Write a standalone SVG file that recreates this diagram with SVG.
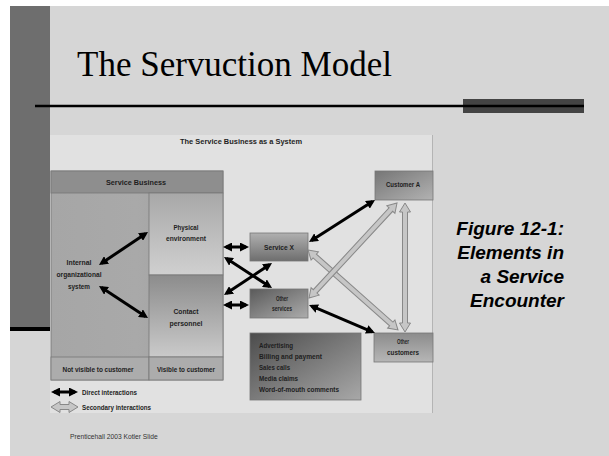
<svg xmlns="http://www.w3.org/2000/svg" width="609" height="456" viewBox="0 0 609 456">
<style>
.lbl{font-family:"Liberation Sans",Arial,sans-serif;font-size:6.5px;font-weight:bold;fill:#1e1e1e;text-anchor:middle}
.lft{text-anchor:start}
.box{stroke:#777;stroke-width:0.8}
.dir{stroke:#000;stroke-width:3;fill:none;marker-start:url(#ah);marker-end:url(#ah)}
.sec{fill:#c6c6c6;stroke:#888;stroke-width:1}
.cap{font-family:"Liberation Sans",Arial,sans-serif;font-size:19px;font-weight:bold;font-style:italic;fill:#000;text-anchor:end}
</style>
<defs>
<marker id="ah" viewBox="0 0 9 9" refX="6" refY="4.5" markerWidth="9" markerHeight="9" markerUnits="userSpaceOnUse" orient="auto-start-reverse">
<path d="M0,0 L9,4.5 L0,9 Z" fill="#000"/>
</marker>
<linearGradient id="gPhys" x1="0" y1="0" x2="0" y2="1"><stop offset="0" stop-color="#a8a8a8"/><stop offset="1" stop-color="#d0d0d0"/></linearGradient>
<linearGradient id="gCont" x1="0" y1="0" x2="0" y2="1"><stop offset="0" stop-color="#8c8c8c"/><stop offset="1" stop-color="#cacaca"/></linearGradient>
<linearGradient id="gInt" x1="0" y1="0" x2="1" y2="0"><stop offset="0" stop-color="#a6a6a6"/><stop offset="0.5" stop-color="#a9a9a9"/><stop offset="1" stop-color="#9c9c9c"/></linearGradient>
<linearGradient id="gSX" x1="0" y1="0" x2="0" y2="1"><stop offset="0" stop-color="#b0b0b0"/><stop offset="1" stop-color="#6e6e6e"/></linearGradient>
<linearGradient id="gOS" x1="0" y1="0" x2="1" y2="1"><stop offset="0" stop-color="#5a5a5a"/><stop offset="1" stop-color="#acacac"/></linearGradient>
<linearGradient id="gCA" x1="0" y1="0" x2="1" y2="1"><stop offset="0" stop-color="#767676"/><stop offset="1" stop-color="#b2b2b2"/></linearGradient>
<linearGradient id="gOC" x1="0" y1="0" x2="0" y2="1"><stop offset="0" stop-color="#8c8c8c"/><stop offset="1" stop-color="#b6b6b6"/></linearGradient>
<linearGradient id="gList" x1="0" y1="0" x2="1" y2="1"><stop offset="0" stop-color="#4c4c4c"/><stop offset="1" stop-color="#a8a8a8"/></linearGradient>
</defs>

<!-- slide background -->
<rect x="0" y="0" width="609" height="456" fill="#ffffff"/>
<rect x="10" y="6" width="599" height="450" fill="#d6d6d6"/>
<rect x="10" y="6" width="40" height="321" fill="#6e6e6e"/>
<rect x="10" y="327" width="40" height="4" fill="#000"/>
<rect x="463" y="99" width="121" height="14" fill="#444"/>
<line x1="35" y1="106" x2="584" y2="106" stroke="#000" stroke-width="2.5"/>
<text x="77" y="76" font-family="Liberation Serif,'Times New Roman',serif" font-size="35" fill="#000">The Servuction Model</text>

<!-- figure panel -->
<rect x="50" y="135" width="383" height="278" fill="#e1e1e1"/>
<line x1="432.5" y1="135" x2="432.5" y2="413" stroke="#b4b4b4" stroke-width="1"/>
<text class="lbl" x="241" y="144" font-size="7" textLength="122" lengthAdjust="spacingAndGlyphs">The Service Business as a System</text>

<g id="service-business">
<rect class="box" x="51" y="171" width="172" height="209" fill="url(#gInt)"/>
<rect class="box" x="51" y="171" width="172" height="22" fill="#8e8e8e"/>
<text class="lbl" x="136" y="185" font-size="7" textLength="60" lengthAdjust="spacingAndGlyphs">Service Business</text>
</g>
<g id="internal-system">
<text class="lbl" x="79" y="265" textLength="25" lengthAdjust="spacingAndGlyphs">Internal</text>
<text class="lbl" x="79" y="277" textLength="45" lengthAdjust="spacingAndGlyphs">organizational</text>
<text class="lbl" x="79" y="289" textLength="22" lengthAdjust="spacingAndGlyphs">system</text>
</g>
<g id="physical-environment">
<rect class="box" x="149" y="193" width="74" height="82" fill="url(#gPhys)"/>
<text class="lbl" x="186" y="230" textLength="25" lengthAdjust="spacingAndGlyphs">Physical</text>
<text class="lbl" x="186" y="241" textLength="40" lengthAdjust="spacingAndGlyphs">environment</text>
</g>
<g id="contact-personnel">
<rect class="box" x="149" y="275" width="74" height="82" fill="url(#gCont)"/>
<text class="lbl" x="186" y="314" textLength="25" lengthAdjust="spacingAndGlyphs">Contact</text>
<text class="lbl" x="186" y="326" textLength="33" lengthAdjust="spacingAndGlyphs">personnel</text>
</g>
<g id="not-visible">
<rect class="box" x="51" y="357" width="98" height="23" fill="#acacac"/>
<text class="lbl" x="98" y="372" textLength="71" lengthAdjust="spacingAndGlyphs">Not visible to customer</text>
</g>
<g id="visible">
<rect class="box" x="149" y="357" width="74" height="23" fill="#acacac"/>
<text class="lbl" x="186" y="372" textLength="58" lengthAdjust="spacingAndGlyphs">Visible to customer</text>
</g>
<g id="service-x">
<rect class="box" x="250" y="233" width="58" height="28" fill="url(#gSX)"/>
<text class="lbl" x="279" y="250" textLength="30" lengthAdjust="spacingAndGlyphs">Service X</text>
</g>
<g id="other-services">
<rect class="box" x="250" y="289" width="58" height="29" fill="url(#gOS)"/>
<text class="lbl" x="282" y="301" textLength="12" lengthAdjust="spacingAndGlyphs">Other</text>
<text class="lbl" x="282" y="311" textLength="20" lengthAdjust="spacingAndGlyphs">services</text>
</g>
<g id="customer-a">
<rect class="box" x="375" y="171" width="58" height="29" fill="url(#gCA)"/>
<text class="lbl" x="403" y="187" textLength="34" lengthAdjust="spacingAndGlyphs">Customer A</text>
</g>
<g id="other-customers">
<rect class="box" x="374" y="333" width="59" height="29" fill="url(#gOC)"/>
<text class="lbl" x="403" y="344" textLength="12" lengthAdjust="spacingAndGlyphs">Other</text>
<text class="lbl" x="403" y="355" textLength="32" lengthAdjust="spacingAndGlyphs">customers</text>
</g>
<g id="marketing-list">
<rect class="box" x="250" y="333" width="111" height="67" fill="url(#gList)" stroke="#666"/>
<text class="lbl lft" x="259" y="348" textLength="34" lengthAdjust="spacingAndGlyphs">Advertising</text>
<text class="lbl lft" x="259" y="359" textLength="63" lengthAdjust="spacingAndGlyphs">Billing and payment</text>
<text class="lbl lft" x="259" y="370" textLength="31" lengthAdjust="spacingAndGlyphs">Sales calls</text>
<text class="lbl lft" x="259" y="381" textLength="39" lengthAdjust="spacingAndGlyphs">Media claims</text>
<text class="lbl lft" x="259" y="392" textLength="80" lengthAdjust="spacingAndGlyphs">Word-of-mouth comments</text>
</g>
<g id="legend">
<line class="dir" x1="54" y1="392" x2="75" y2="392"/>
<text class="lbl lft" x="82" y="394.5" textLength="55" lengthAdjust="spacingAndGlyphs">Direct interactions</text>
<path class="sec" transform="translate(51,407)" d="M0,0 L9,-5.5 L9,-2.5 L18,-2.5 L18,-5.5 L27,0 L18,5.5 L18,2.5 L9,2.5 L9,5.5 Z"/>
<text class="lbl lft" x="82" y="409.5" textLength="69" lengthAdjust="spacingAndGlyphs">Secondary interactions</text>
</g>

<g id="connectors">
<line class="dir" x1="101.5" y1="263.3" x2="145.5" y2="233.7"/>
<line class="dir" x1="101.5" y1="287.6" x2="145.5" y2="316.4"/>
<line class="dir" x1="226" y1="247" x2="246" y2="247"/>
<line class="dir" x1="226" y1="305" x2="246" y2="305"/>
<line class="dir" x1="226.5" y1="258.6" x2="269.5" y2="286.4"/>
<line class="dir" x1="269.5" y1="264.7" x2="226.5" y2="293.3"/>
<line class="dir" x1="311.5" y1="240.4" x2="372.5" y2="201.6"/>
<line class="dir" x1="311.8" y1="306.2" x2="372.2" y2="331.8"/>
<path class="sec" transform="translate(308,250) rotate(41.63)" d="M0,0 L9,-5.5 L9,-2.5 L111.4,-2.5 L111.4,-5.5 L120.4,0 L111.4,5.5 L111.4,2.5 L9,2.5 L9,5.5 Z"/>
<path class="sec" transform="translate(309,298) rotate(-47.19)" d="M0,0 L9,-5.5 L9,-2.5 L120.5,-2.5 L120.5,-5.5 L129.5,0 L120.5,5.5 L120.5,2.5 L9,2.5 L9,5.5 Z"/>
<path class="sec" transform="translate(405,203) rotate(90)" d="M0,0 L9,-5.5 L9,-2.5 L120,-2.5 L120,-5.5 L129,0 L120,5.5 L120,2.5 L9,2.5 L9,5.5 Z"/>
</g>

<!-- caption -->
<text class="cap" x="564" y="235">Figure 12-1:</text>
<text class="cap" x="564" y="259">Elements in</text>
<text class="cap" x="564" y="283">a Service</text>
<text class="cap" x="564" y="307">Encounter</text>

<text x="70" y="439" font-family="Liberation Sans,Arial,sans-serif" font-size="6.7" fill="#333">Prenticehall 2003 Kotler Slide</text>
</svg>
